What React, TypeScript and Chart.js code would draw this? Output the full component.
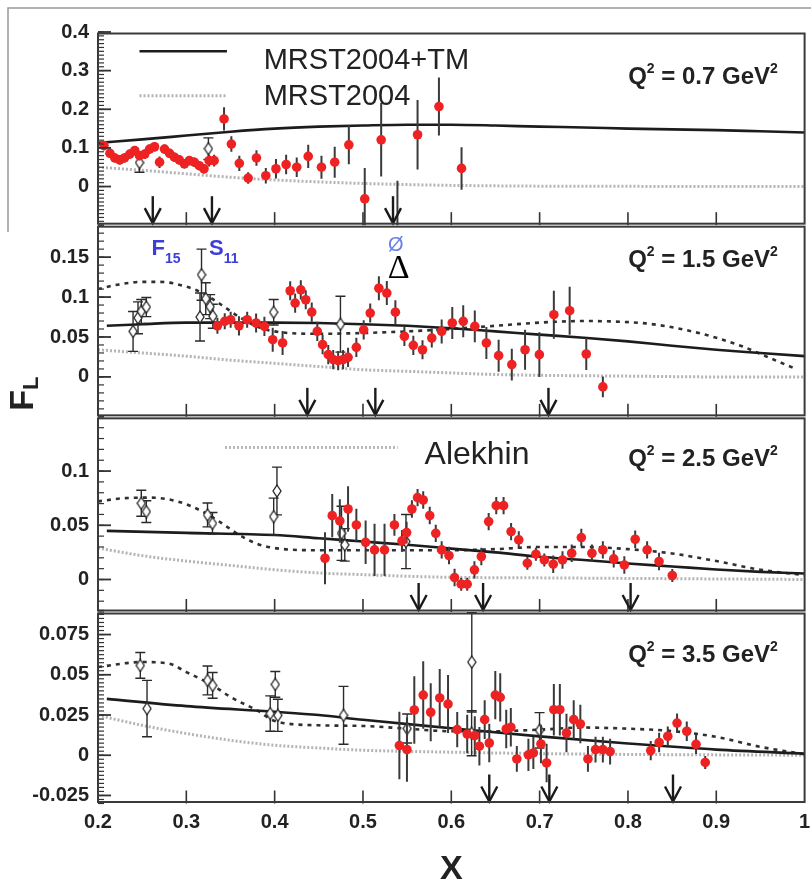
import React, { useEffect, useRef } from 'react';
import { Chart, registerables } from 'chart.js';

Chart.register(...registerables);

type Pt = [number, number, number];
type Cv = [number, number];

// ---------- axis ticks ----------
const X_TICKS = [0.2, 0.3, 0.4, 0.5, 0.6, 0.7, 0.8, 0.9, 1.0];
const X_TICK_LABELS = ['0.2', '0.3', '0.4', '0.5', '0.6', '0.7', '0.8', '0.9', '1'];

const P1_Y_TICKS = [0, 0.1, 0.2, 0.3, 0.4];
const P1_Y_LABELS = ['0', '0.1', '0.2', '0.3', '0.4'];
const P2_Y_TICKS = [0, 0.05, 0.1, 0.15];
const P2_Y_LABELS = ['0', '0.05', '0.1', '0.15'];
const P3_Y_TICKS = [0, 0.05, 0.1];
const P3_Y_LABELS = ['0', '0.05', '0.1'];
const P4_Y_TICKS = [-0.025, 0, 0.025, 0.05, 0.075];
const P4_Y_LABELS = ['-0.025', '0', '0.025', '0.05', '0.075'];

const Q2_LABELS = ['0.7', '1.5', '2.5', '3.5'];

// ---------- Q2 = 0.7 ----------
const P1_RED: Pt[] = [
  [0.2067, 0.106, 0.012], [0.2135, 0.086, 0.012], [0.219, 0.074, 0.012], [0.2247, 0.069, 0.012],
  [0.23, 0.074, 0.012], [0.236, 0.084, 0.012], [0.2416, 0.093, 0.012], [0.247, 0.08, 0.012],
  [0.253, 0.084, 0.012], [0.2584, 0.097, 0.012], [0.264, 0.103, 0.012], [0.2697, 0.063, 0.015],
  [0.2753, 0.097, 0.012], [0.281, 0.086, 0.012], [0.2865, 0.076, 0.012], [0.292, 0.069, 0.012],
  [0.2978, 0.059, 0.012], [0.3034, 0.067, 0.012], [0.309, 0.063, 0.012], [0.3146, 0.054, 0.012],
  [0.32, 0.046, 0.012], [0.3258, 0.067, 0.015], [0.3315, 0.067, 0.015], [0.3427, 0.175, 0.03],
  [0.351, 0.11, 0.02], [0.36, 0.06, 0.02], [0.37, 0.022, 0.015], [0.3794, 0.074, 0.02],
  [0.39, 0.028, 0.02], [0.4015, 0.046, 0.025], [0.413, 0.057, 0.025], [0.425, 0.05, 0.025],
  [0.438, 0.078, 0.03], [0.453, 0.05, 0.03], [0.468, 0.063, 0.04], [0.484, 0.108, 0.05],
  [0.502, -0.032, 0.08], [0.5206, 0.121, 0.095], [0.5618, 0.134, 0.09], [0.586, 0.207, 0.075],
  [0.6116, 0.047, 0.055],
];
const P1_OFFSCALE: Pt[] = [[0.539, -0.13, 0.145]];
const P1_OPEN: Pt[] = [[0.247, 0.062, 0.025], [0.325, 0.098, 0.028]];
const P1_TM: Cv[] = [
  [0.2, 0.113], [0.25, 0.122], [0.3, 0.132], [0.35, 0.142], [0.4, 0.15], [0.45, 0.155], [0.5, 0.158],
  [0.55, 0.16], [0.6, 0.16], [0.65, 0.158], [0.7, 0.155], [0.75, 0.153], [0.8, 0.15], [0.85, 0.148],
  [0.9, 0.146], [0.95, 0.143], [1.0, 0.14],
];
const P1_MRST: Cv[] = [
  [0.2, 0.05], [0.25, 0.042], [0.3, 0.033], [0.35, 0.024], [0.4, 0.017], [0.45, 0.012], [0.5, 0.008],
  [0.55, 0.005], [0.6, 0.003], [0.7, 0.001], [0.8, 0.0005], [0.9, 0], [1.0, 0],
];
const P1_ARROWS = [0.262, 0.329, 0.534];

// ---------- Q2 = 1.5 ----------
const P2_RED: Pt[] = [
  [0.3352, 0.064, 0.01], [0.3435, 0.0696, 0.01], [0.3502, 0.0716, 0.01], [0.3596, 0.064, 0.012],
  [0.3689, 0.0716, 0.01], [0.379, 0.0675, 0.012], [0.3884, 0.0633, 0.012], [0.3978, 0.0466, 0.015],
  [0.409, 0.0425, 0.015], [0.4176, 0.1079, 0.012], [0.4232, 0.0925, 0.012], [0.4296, 0.109, 0.012],
  [0.4352, 0.0966, 0.012], [0.442, 0.0812, 0.012], [0.4483, 0.057, 0.012], [0.4543, 0.0404, 0.012],
  [0.4607, 0.0279, 0.012], [0.4663, 0.0216, 0.012], [0.4719, 0.0204, 0.012], [0.4775, 0.0216, 0.012],
  [0.4831, 0.0245, 0.012], [0.4925, 0.037, 0.012], [0.5008, 0.059, 0.012], [0.5082, 0.08, 0.012],
  [0.518, 0.111, 0.015], [0.527, 0.105, 0.015], [0.5367, 0.081, 0.015], [0.5469, 0.0508, 0.012],
  [0.557, 0.0395, 0.012], [0.5674, 0.034, 0.012], [0.5779, 0.0487, 0.012], [0.5891, 0.057, 0.015],
  [0.6011, 0.0675, 0.02], [0.6135, 0.0696, 0.02], [0.6266, 0.0633, 0.02], [0.6397, 0.0425, 0.02],
  [0.6536, 0.0266, 0.02], [0.6685, 0.0154, 0.02], [0.6835, 0.034, 0.025], [0.6997, 0.0279, 0.028],
  [0.7161, 0.0779, 0.03], [0.734, 0.0829, 0.03], [0.7528, 0.0287, 0.02], [0.7716, -0.0125, 0.013],
];
const P2_OPEN: Pt[] = [
  [0.2397, 0.057, 0.025], [0.2453, 0.074, 0.02], [0.249, 0.082, 0.015], [0.2547, 0.0875, 0.012],
  [0.3172, 0.128, 0.032], [0.3155, 0.075, 0.03], [0.322, 0.098, 0.02], [0.327, 0.088, 0.015],
  [0.33, 0.076, 0.015], [0.3989, 0.081, 0.016], [0.4745, 0.066, 0.035],
];
const P2_TM: Cv[] = [
  [0.21, 0.064], [0.25, 0.066], [0.3, 0.068], [0.35, 0.068], [0.4, 0.068], [0.45, 0.0675], [0.5, 0.066],
  [0.55, 0.064], [0.6, 0.061], [0.65, 0.057], [0.7, 0.053], [0.75, 0.049], [0.8, 0.0445], [0.85, 0.039],
  [0.9, 0.034], [0.95, 0.03], [1.0, 0.026],
];
const P2_ALEKHIN: Cv[] = [
  [0.2, 0.11], [0.22, 0.115], [0.25, 0.119], [0.27, 0.119], [0.3, 0.113], [0.32, 0.104], [0.34, 0.09],
  [0.36, 0.075], [0.38, 0.063], [0.4, 0.057], [0.45, 0.054], [0.5, 0.055], [0.55, 0.057], [0.6, 0.06],
  [0.65, 0.064], [0.7, 0.068], [0.75, 0.07], [0.78, 0.0695], [0.82, 0.067], [0.86, 0.06], [0.9, 0.049],
  [0.93, 0.038], [0.96, 0.024], [0.99, 0.01],
];
const P2_MRST: Cv[] = [
  [0.2, 0.034], [0.25, 0.03], [0.3, 0.026], [0.35, 0.021], [0.4, 0.017], [0.45, 0.013], [0.5, 0.009],
  [0.55, 0.007], [0.6, 0.005], [0.65, 0.003], [0.7, 0.002], [0.8, 0.001], [0.9, 0], [1.0, 0],
];
const P2_ARROWS = [0.437, 0.514, 0.71];

// ---------- Q2 = 2.5 ----------
const P3_RED: Pt[] = [
  [0.457, 0.0196, 0.024], [0.4652, 0.0589, 0.02], [0.4738, 0.054, 0.02], [0.4831, 0.065, 0.021],
  [0.4925, 0.0503, 0.015], [0.503, 0.0343, 0.02], [0.5131, 0.0273, 0.024], [0.5244, 0.0273, 0.024],
  [0.5356, 0.0503, 0.01], [0.5442, 0.0356, 0.01], [0.5494, 0.0433, 0.01], [0.5554, 0.065, 0.008],
  [0.5618, 0.0755, 0.008], [0.5682, 0.0733, 0.008], [0.5756, 0.059, 0.008], [0.5824, 0.0426, 0.008],
  [0.5891, 0.0273, 0.008], [0.5974, 0.0221, 0.008], [0.6037, 0.0018, 0.008], [0.6112, -0.0043, 0.006],
  [0.618, -0.0043, 0.006], [0.6262, 0.0089, 0.008], [0.634, 0.0212, 0.008], [0.6423, 0.0534, 0.008],
  [0.6509, 0.0681, 0.008], [0.6592, 0.0681, 0.008], [0.6677, 0.0442, 0.008], [0.6764, 0.0365, 0.008],
  [0.6861, 0.015, 0.006], [0.6958, 0.0233, 0.006], [0.7053, 0.018, 0.006], [0.7154, 0.0141, 0.008],
  [0.7259, 0.018, 0.008], [0.7363, 0.0242, 0.008], [0.7472, 0.0387, 0.008], [0.7592, 0.0242, 0.008],
  [0.7716, 0.0273, 0.008], [0.7839, 0.019, 0.008], [0.7959, 0.0134, 0.008], [0.8082, 0.0371, 0.008],
  [0.8217, 0.0273, 0.008], [0.8352, 0.0166, 0.008], [0.8502, 0.0037, 0.006],
];
const P3_OPEN: Pt[] = [
  [0.249, 0.0703, 0.012], [0.2547, 0.0626, 0.01], [0.324, 0.0595, 0.011], [0.3296, 0.0518, 0.01],
  [0.4026, 0.0816, 0.022], [0.3989, 0.058, 0.017], [0.4757, 0.0426, 0.025], [0.4794, 0.0319, 0.015],
  [0.5487, 0.035, 0.025],
];
const P3_TM: Cv[] = [
  [0.21, 0.0448], [0.3, 0.043], [0.4, 0.041], [0.45, 0.038], [0.5, 0.035], [0.55, 0.032], [0.6, 0.0285],
  [0.65, 0.025], [0.7, 0.021], [0.75, 0.018], [0.8, 0.0147], [0.85, 0.012], [0.9, 0.0092], [0.95, 0.007],
  [1.0, 0.0055],
];
const P3_ALEKHIN: Cv[] = [
  [0.2, 0.072], [0.23, 0.075], [0.26, 0.0755], [0.29, 0.072], [0.32, 0.062], [0.34, 0.052], [0.36, 0.041],
  [0.38, 0.033], [0.4, 0.029], [0.45, 0.027], [0.5, 0.027], [0.55, 0.027], [0.6, 0.027], [0.65, 0.028],
  [0.7, 0.03], [0.75, 0.03], [0.8, 0.028], [0.85, 0.024], [0.9, 0.017], [0.95, 0.009], [1.0, 0.004],
];
const P3_MRST: Cv[] = [
  [0.2, 0.029], [0.25, 0.022], [0.3, 0.017], [0.35, 0.013], [0.4, 0.009], [0.45, 0.006], [0.5, 0.0045],
  [0.55, 0.003], [0.6, 0.002], [0.7, 0.0015], [0.8, 0.001], [0.9, 0.0005], [1.0, 0],
];
const P3_ARROWS = [0.563, 0.636, 0.803];

// ---------- Q2 = 3.5 ----------
const P4_RED: Pt[] = [
  [0.5412, 0.006, 0.021], [0.5498, 0.0035, 0.02], [0.5581, 0.0281, 0.021], [0.5682, 0.0374, 0.021],
  [0.5767, 0.0267, 0.018], [0.5869, 0.0356, 0.018], [0.5963, 0.0318, 0.018], [0.6067, 0.0159, 0.011],
  [0.618, 0.0132, 0.012], [0.6266, 0.0122, 0.012], [0.6318, 0.0056, 0.012], [0.6378, 0.0221, 0.012],
  [0.643, 0.0076, 0.012], [0.6498, 0.0374, 0.015], [0.6554, 0.036, 0.015], [0.6622, 0.0163, 0.012],
  [0.6674, 0.0174, 0.012], [0.6742, -0.0023, 0.008], [0.6873, 0.0002, 0.01], [0.6929, 0.0014, 0.01],
  [0.7015, 0.007, 0.012], [0.7079, -0.0048, 0.012], [0.7161, 0.0283, 0.016], [0.7229, 0.0283, 0.016],
  [0.7304, 0.0138, 0.012], [0.7386, 0.0221, 0.012], [0.7461, 0.0194, 0.012], [0.7547, -0.0023, 0.008],
  [0.7633, 0.0035, 0.008], [0.7716, 0.0035, 0.008], [0.7798, 0.0023, 0.008], [0.8258, 0.0029, 0.006],
  [0.8353, 0.0079, 0.006], [0.8451, 0.0118, 0.006], [0.8556, 0.02, 0.006], [0.8666, 0.0149, 0.006],
  [0.8771, 0.0068, 0.006], [0.8875, -0.0045, 0.004],
];
const P4_OPEN: Pt[] = [
  [0.2479, 0.0558, 0.008], [0.2555, 0.029, 0.0175], [0.324, 0.0465, 0.009], [0.3298, 0.0434, 0.008],
  [0.4007, 0.044, 0.008], [0.395, 0.0259, 0.011], [0.4036, 0.0248, 0.01], [0.478, 0.0248, 0.018],
  [0.55, 0.0166, 0.009], [0.6232, 0.0579, 0.031], [0.623, 0.0137, 0.014], [0.6999, 0.0155, 0.011],
];
const P4_TM: Cv[] = [
  [0.21, 0.035], [0.3, 0.0305], [0.4, 0.027], [0.45, 0.025], [0.5, 0.022], [0.6, 0.0168], [0.7, 0.0117],
  [0.8, 0.0073], [0.9, 0.0035], [1.0, 0.001],
];
const P4_ALEKHIN: Cv[] = [
  [0.2, 0.0548], [0.25, 0.0579], [0.28, 0.057], [0.3, 0.0517], [0.33, 0.0434], [0.35, 0.0362],
  [0.38, 0.0279], [0.4, 0.0213], [0.45, 0.0186], [0.5, 0.0182], [0.55, 0.0165], [0.6, 0.0149],
  [0.65, 0.0149], [0.7, 0.0159], [0.75, 0.0172], [0.8, 0.0165], [0.85, 0.015], [0.9, 0.0114],
  [0.95, 0.0052], [1.0, 0.0006],
];
const P4_MRST: Cv[] = [
  [0.2, 0.0248], [0.25, 0.0186], [0.3, 0.0135], [0.35, 0.0093], [0.4, 0.0062], [0.45, 0.0045],
  [0.5, 0.0031], [0.6, 0.0019], [0.7, 0.001], [0.8, 0.0005], [1.0, 0],
];
const P4_ARROWS = [0.643, 0.711, 0.851];

// ---------- styles ----------
const FONT = "'Liberation Sans', Arial, Helvetica, sans-serif";
const RED = '#ee2222';
const INK = '#222222';
const BLUE = '#3b3fd6';

type Panel = {
  id: string; min: number; max: number; minor: number; weight: number;
  ticks: number[]; labels: string[]; arrows: number[]; q2: string; qy: number;
  red: Pt[]; open: Pt[]; tm: Cv[]; alek: Cv[] | null; mrst: Cv[]; extra?: Pt[];
};

const PANELS: Panel[] = [
  { id: 'y1', min: -0.1, max: 0.4, minor: 0.01, weight: 193.5, ticks: P1_Y_TICKS, labels: P1_Y_LABELS,
    arrows: P1_ARROWS, q2: Q2_LABELS[0], qy: 0.266, red: P1_RED, open: P1_OPEN, tm: P1_TM, alek: null,
    mrst: P1_MRST, extra: P1_OFFSCALE },
  { id: 'y2', min: -0.05, max: 0.19, minor: 0.01, weight: 192, ticks: P2_Y_TICKS, labels: P2_Y_LABELS,
    arrows: P2_ARROWS, q2: Q2_LABELS[1], qy: 0.138, red: P2_RED, open: P2_OPEN, tm: P2_TM, alek: P2_ALEKHIN,
    mrst: P2_MRST },
  { id: 'y3', min: -0.03, max: 0.15, minor: 0.01, weight: 195.5, ticks: P3_Y_TICKS, labels: P3_Y_LABELS,
    arrows: P3_ARROWS, q2: Q2_LABELS[2], qy: 0.105, red: P3_RED, open: P3_OPEN, tm: P3_TM, alek: P3_ALEKHIN,
    mrst: P3_MRST },
  { id: 'y4', min: -0.03, max: 0.089, minor: 0.0025, weight: 191.8, ticks: P4_Y_TICKS, labels: P4_Y_LABELS,
    arrows: P4_ARROWS, q2: Q2_LABELS[3], qy: 0.0577, red: P4_RED, open: P4_OPEN, tm: P4_TM, alek: P4_ALEKHIN,
    mrst: P4_MRST },
];

const toXY = (a: (Pt | Cv)[]) => a.map((p) => ({ x: p[0], y: p[1] }));

// tall open diamond marker (wider than Chart.js' square rectRot would be)
function makeDiamond(): HTMLCanvasElement {
  const c = document.createElement('canvas');
  c.width = 10;
  c.height = 14;
  const g = c.getContext('2d')!;
  g.fillStyle = '#ffffff';
  g.strokeStyle = INK;
  g.lineWidth = 1.3;
  g.beginPath();
  g.moveTo(5, 1);
  g.lineTo(9, 7);
  g.lineTo(5, 13);
  g.lineTo(1, 7);
  g.closePath();
  g.fill();
  g.stroke();
  return c;
}

function buildDatasets(diamond: HTMLCanvasElement): any[] {
  const out: any[] = [];
  PANELS.forEach((p) => {
    const reds = p.extra ? [...p.red, ...p.extra] : p.red;
    out.push({
      type: 'scatter', yAxisID: p.id, data: toXY(reds), errors: reds.map((d) => d[2]), caps: false,
      pointRadius: 4.8, pointHoverRadius: 4.8, backgroundColor: RED, borderWidth: 0, order: 0,
    });
    out.push({
      type: 'scatter', yAxisID: p.id, data: toXY(p.open), errors: p.open.map((d) => d[2]), caps: true,
      pointStyle: diamond, pointRadius: 5, backgroundColor: '#ffffff', borderColor: INK, borderWidth: 1.4,
      order: 1,
    });
    out.push({
      type: 'line', yAxisID: p.id, data: toXY(p.tm), borderColor: '#1c1c1c', borderWidth: 2.6, pointRadius: 0,
      cubicInterpolationMode: 'monotone', fill: false, order: 2,
    });
    if (p.alek) {
      out.push({
        type: 'line', yAxisID: p.id, data: toXY(p.alek), borderColor: '#303030', borderWidth: 2.6,
        borderDash: [4, 5], pointRadius: 0, cubicInterpolationMode: 'monotone', fill: false, order: 3,
      });
    }
    out.push({
      type: 'line', yAxisID: p.id, data: toXY(p.mrst), borderColor: '#b4b4b4', borderWidth: 3,
      borderDash: [2, 2], pointRadius: 0, cubicInterpolationMode: 'monotone', fill: false, order: 4,
    });
  });
  return out;
}

type Part = { t: string; size: number; bold?: boolean; dy?: number; family?: string; color?: string };

function drawParts(ctx: CanvasRenderingContext2D, x: number, y: number, parts: Part[], align: 'left' | 'right' | 'center', baseline: CanvasTextBaseline = 'alphabetic') {
  const fontOf = (p: Part) => `${p.bold ? 'bold ' : ''}${p.size}px ${p.family || FONT}`;
  let total = 0;
  parts.forEach((p) => { ctx.font = fontOf(p); total += ctx.measureText(p.t).width; });
  let cx = align === 'left' ? x : align === 'right' ? x - total : x - total / 2;
  ctx.textAlign = 'left';
  ctx.textBaseline = baseline;
  parts.forEach((p) => {
    ctx.font = fontOf(p);
    ctx.fillStyle = p.color || INK;
    ctx.fillText(p.t, cx, y + (p.dy || 0));
    cx += ctx.measureText(p.t).width;
  });
}

function seg(ctx: CanvasRenderingContext2D, pts: number[]) {
  ctx.beginPath();
  ctx.moveTo(pts[0], pts[1]);
  for (let i = 2; i < pts.length; i += 2) ctx.lineTo(pts[i], pts[i + 1]);
  ctx.stroke();
}

const decor = {
  id: 'decor',
  beforeDatasetDraw(chart: any, args: any) {
    const ds: any = chart.data.datasets[args.index];
    if (!ds.errors) return;
    const meta = args.meta;
    const xs = meta.xScale;
    const ys = meta.yScale;
    const ca = chart.chartArea;
    const ctx: CanvasRenderingContext2D = chart.ctx;
    ctx.save();
    ctx.beginPath();
    ctx.rect(ca.left, ys.top, ca.right - ca.left, ys.bottom - ys.top);
    ctx.clip();
    ctx.strokeStyle = ds.caps ? '#2a2a2a' : '#3a3a3a';
    ctx.lineWidth = ds.caps ? 1.4 : 2;
    ds.data.forEach((p: any, i: number) => {
      const e = ds.errors[i];
      const x = xs.getPixelForValue(p.x);
      const y1 = ys.getPixelForValue(p.y - e);
      const y2 = ys.getPixelForValue(p.y + e);
      ctx.beginPath();
      ctx.moveTo(x, y1);
      ctx.lineTo(x, y2);
      if (ds.caps) {
        ctx.moveTo(x - 5, y1); ctx.lineTo(x + 5, y1);
        ctx.moveTo(x - 5, y2); ctx.lineTo(x + 5, y2);
      }
      ctx.stroke();
    });
    ctx.restore();
  },
  afterDraw(chart: any) {
    const ctx: CanvasRenderingContext2D = chart.ctx;
    const ca = chart.chartArea;
    const xs = chart.scales.x;
    ctx.save();
    ctx.lineCap = 'butt';

    PANELS.forEach((p) => {
      const ys = chart.scales[p.id];
      ctx.strokeStyle = '#333';
      // minor y ticks
      ctx.lineWidth = 1.2;
      const n = Math.round((p.max - p.min) / p.minor);
      for (let i = 0; i <= n; i++) {
        const y = ys.getPixelForValue(p.min + i * p.minor);
        seg(ctx, [ca.left, y, ca.left + 6, y]);
      }
      // major y ticks
      ctx.lineWidth = 1.8;
      p.ticks.forEach((v) => {
        const y = ys.getPixelForValue(v);
        seg(ctx, [ca.left, y, ca.left + 13, y]);
      });
      // x ticks
      ctx.lineWidth = 1.6;
      X_TICKS.slice(1, -1).forEach((v) => {
        const x = xs.getPixelForValue(v);
        seg(ctx, [x, ys.bottom, x, ys.bottom - 13]);
      });
      // arrows
      ctx.lineWidth = 2.4;
      ctx.strokeStyle = '#1a1a1a';
      p.arrows.forEach((v) => {
        const x = xs.getPixelForValue(v);
        const b = ys.bottom - 2;
        seg(ctx, [x, b - 27, x, b]);
        seg(ctx, [x - 8, b - 15, x, b, x + 8, b - 15]);
      });
      // frame
      ctx.strokeStyle = '#3a3a3a';
      ctx.lineWidth = 2;
      ctx.strokeRect(ca.left, ys.top + 1.5, ca.right - ca.left, ys.bottom - ys.top - 3);
      // Q2 label
      drawParts(ctx, xs.getPixelForValue(0.9697), ys.getPixelForValue(p.qy), [
        { t: 'Q', size: 24, bold: true },
        { t: '2', size: 14, bold: true, dy: -11 },
        { t: ` = ${p.q2} GeV`, size: 24, bold: true },
        { t: '2', size: 14, bold: true, dy: -11 },
      ], 'right');
    });

    const y1 = chart.scales.y1;
    const y2 = chart.scales.y2;
    const y3 = chart.scales.y3;
    const X = (v: number) => xs.getPixelForValue(v);

    // legend in top panel
    ctx.strokeStyle = '#1c1c1c';
    ctx.lineWidth = 2.6;
    seg(ctx, [X(0.247), y1.getPixelForValue(0.35), X(0.346), y1.getPixelForValue(0.35)]);
    ctx.strokeStyle = '#b4b4b4';
    ctx.lineWidth = 3;
    ctx.setLineDash([2, 2]);
    seg(ctx, [X(0.247), y1.getPixelForValue(0.235), X(0.346), y1.getPixelForValue(0.235)]);
    ctx.setLineDash([]);
    drawParts(ctx, X(0.3876), y1.getPixelForValue(0.3256), [{ t: 'MRST2004+TM', size: 29 }], 'left', 'middle');
    drawParts(ctx, X(0.3876), y1.getPixelForValue(0.231), [{ t: 'MRST2004', size: 29 }], 'left', 'middle');

    // resonance labels
    drawParts(ctx, X(0.2607), y2.getPixelForValue(0.153), [
      { t: 'F', size: 22, bold: true, color: BLUE },
      { t: '15', size: 14, bold: true, dy: 8, color: BLUE },
    ], 'left');
    drawParts(ctx, X(0.3258), y2.getPixelForValue(0.153), [
      { t: 'S', size: 22, bold: true, color: BLUE },
      { t: '11', size: 14, bold: true, dy: 8, color: BLUE },
    ], 'left');
    drawParts(ctx, X(0.537), y2.getPixelForValue(0.165), [
      { t: 'Ø', size: 20, color: '#6a7fe6' },
    ], 'center', 'middle');
    drawParts(ctx, X(0.528), y2.getPixelForValue(0.124), [
      { t: 'Δ', size: 34, family: "'Liberation Serif', 'DejaVu Serif', serif", color: '#000' },
    ], 'left');

    // Alekhin legend
    ctx.strokeStyle = '#b8b8b8';
    ctx.lineWidth = 3;
    ctx.setLineDash([2, 2]);
    seg(ctx, [X(0.3438), y3.getPixelForValue(0.1218), X(0.5393), y3.getPixelForValue(0.1218)]);
    ctx.setLineDash([]);
    drawParts(ctx, X(0.5697), y3.getPixelForValue(0.1145), [{ t: 'Alekhin', size: 32 }], 'left', 'middle');

    // axis titles
    drawParts(ctx, X(0.6), chart.height - 15, [{ t: 'X', size: 34, bold: true }], 'center', 'middle');
    ctx.save();
    ctx.translate(24, y2.bottom - 6);
    ctx.rotate(-Math.PI / 2);
    drawParts(ctx, 0, 0, [
      { t: 'F', size: 34, bold: true },
      { t: 'L', size: 22, bold: true, dy: 8 },
    ], 'left', 'middle');
    ctx.restore();

    // outer thin box
    ctx.strokeStyle = '#9a9a9a';
    ctx.lineWidth = 1.5;
    seg(ctx, [8, 232, 8, 8, 811, 8]);
    ctx.restore();
  },
};

function yScale(p: Panel) {
  return {
    type: 'linear',
    position: 'left',
    stack: 'fl',
    stackWeight: p.weight,
    min: p.min,
    max: p.max,
    grid: { display: false, drawTicks: false },
    border: { display: false },
    afterBuildTicks: (s: any) => { s.ticks = p.ticks.map((v) => ({ value: v })); },
    afterFit: (s: any) => { s.width = 98; s.paddingTop = 0; s.paddingBottom = 0; },
    ticks: {
      autoSkip: false,
      padding: 9,
      color: INK,
      font: { family: FONT, size: 20, weight: 'bold' },
      callback: (_v: any, i: number) => p.labels[i],
    },
  };
}

export default function App() {
  const ref = useRef<HTMLCanvasElement | null>(null);
  useEffect(() => {
    if (!ref.current) return;
    const scales: any = {
      x: {
        type: 'linear',
        position: 'bottom',
        min: 0.2,
        max: 1.0,
        grid: { display: false, drawTicks: false },
        border: { display: false },
        afterBuildTicks: (s: any) => { s.ticks = X_TICKS.map((v) => ({ value: v })); },
        afterFit: (s: any) => { s.height = 81.5; s.paddingLeft = 0; s.paddingRight = 0; },
        ticks: {
          autoSkip: false,
          maxRotation: 0,
          padding: 7,
          color: INK,
          font: { family: FONT, size: 20, weight: 'bold' },
          callback: (_v: any, i: number) => X_TICK_LABELS[i],
        },
      },
    };
    // stacked left axes are laid out bottom-up, so register the lowest panel first
    [...PANELS].reverse().forEach((p) => { scales[p.id] = yScale(p); });
    const chart = new Chart(ref.current, {
      type: 'scatter',
      data: { datasets: buildDatasets(makeDiamond()) },
      options: {
        responsive: false,
        animation: false,
        devicePixelRatio: 1,
        layout: { padding: { top: 32, left: 0, right: 1, bottom: 0 } },
        plugins: { legend: { display: false }, tooltip: { enabled: false } },
        events: [],
        scales,
      } as any,
      plugins: [decor],
    } as any);
    return () => chart.destroy();
  }, []);
  return (
    <div style={{ position: 'absolute', left: 0, top: 0, width: 811, height: 885, background: '#fff' }}>
      <canvas ref={ref} width={811} height={885} style={{ display: 'block' }} />
    </div>
  );
}
